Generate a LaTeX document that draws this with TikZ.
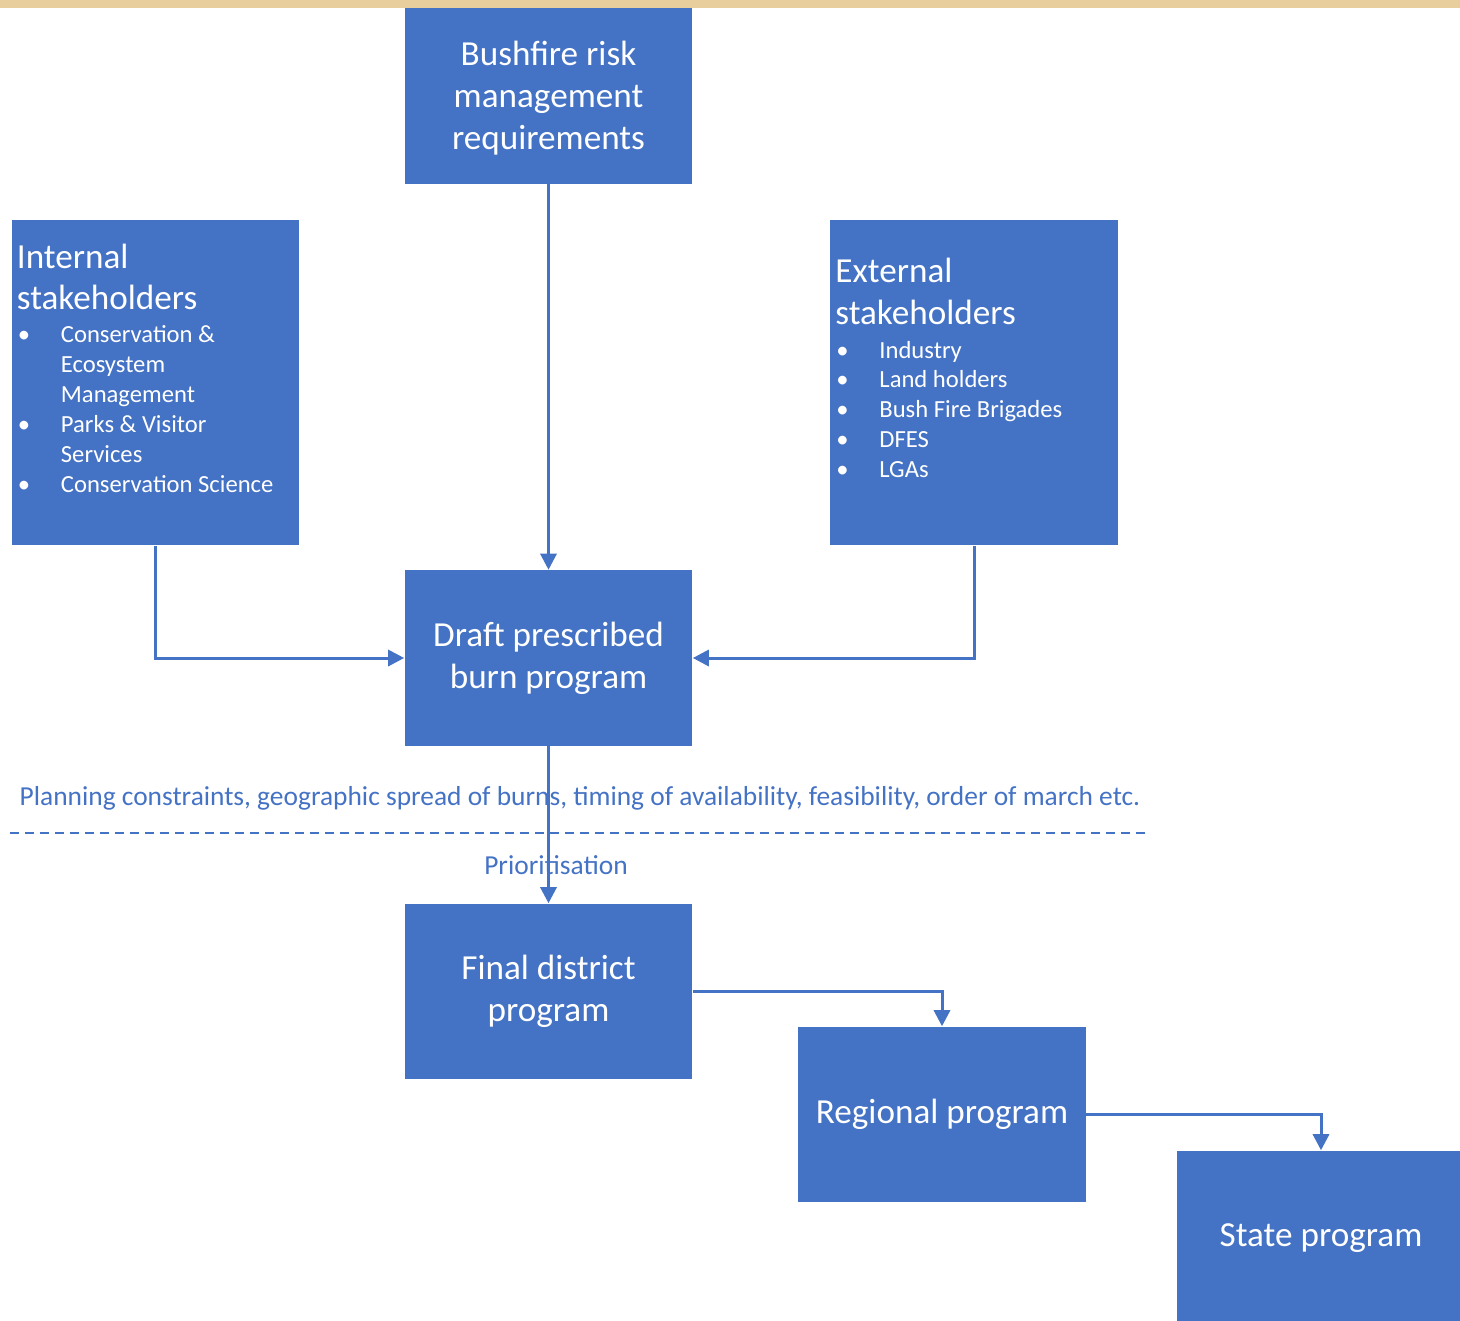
\documentclass[tikz,border=0pt]{standalone}
\usepackage{fontspec}
\setmainfont{Carlito}
\usetikzlibrary{positioning}
\usetikzlibrary{arrows.meta}

\definecolor{officeblue}{RGB}{68,114,196}
\definecolor{bandtan}{RGB}{232,206,156}

\newcommand{\bul}{\makebox[0.44cm][l]{\hspace{0.01cm}\textbullet}}
\newcommand{\ind}{\hspace*{0.44cm}}
\newcommand{\titlefont}{\fontsize{10}{11.8}\selectfont}
\newcommand{\itemfont}{\fontsize{7}{8.5}\selectfont\spaceskip=0pt\xspaceskip=0pt}

\begin{document}
\begin{tikzpicture}[x=0.01cm, y=-0.01cm,
    box/.style={fill=officeblue, text=white, minimum width=2.87cm, minimum height=1.75cm,
        align=center, font=\fontsize{10}{11.9}\selectfont, inner sep=0pt},
    stakebox/.style={fill=officeblue, text=white, minimum width=2.87cm, minimum height=3.25cm,
        text width=2.77cm, align=left, inner xsep=0.05cm, inner ysep=0pt},
    flow/.style={draw=officeblue, line width=0.03cm, -{Triangle[length=0.16cm, width=0.16cm]}},
    note/.style={text=officeblue, font=\fontsize{7.8}{9}\selectfont, inner sep=0pt}]
        \useasboundingbox (0,0) rectangle (1460,1321);

        % Franja superior
        \fill[bandtan] (0,0) rectangle (1460,8);

        % Cajas principales
        \node[box] (requirements) at (548.5,96) {\strut Bushfire risk\\management\\requirements};
        \node[box] (draft) at (548.5,658) {Draft prescribed\\burn program};
        \node[box] (final) at (548.5,991.5) {Final district\\program};
        \node[box] (regional) at (942,1114.5) {Regional program};
        \node[box, minimum height=1.74cm] (state) at (1321,1238) {State program};

        % Partes interesadas
        \node[stakebox] (internal) at (155.5,382.5) {%
            {\titlefont Internal\\stakeholders\par}\vspace{2.3pt}
            {\itemfont\begin{tabular}{@{}l@{}}
                \bul Conservation \&\\ \ind Ecosystem\\ \ind Management\\
                \bul Parks \& Visitor\\ \ind Services\\ \bul Conservation Science
            \end{tabular}\par}\vspace{0.2cm}};
        \node[stakebox] (external) at (974,382.5) {%
            {\titlefont External\\stakeholders\par}\vspace{2.6pt}
            {\itemfont\begin{tabular}{@{}l@{}}
                \bul Industry\\ \bul Land holders\\ \bul Bush Fire Brigades\\
                \bul DFES\\ \bul LGAs
            \end{tabular}\par}\vspace{0.2cm}};

        % Textos y separador
        \node[note] (constraints) at (580,798) {Planning constraints, geographic spread of burns, timing of availability, feasibility, order of march etc.};
        \node[note] (priority) at (556,865) {Prioritisation};
        \draw[officeblue, line width=0.02cm, dash pattern=on 0.09cm off 0.06cm] (10,833) -- (1150,833);

        % Flechas
        \draw[flow] (requirements) -- (draft);
        \draw[flow] (internal.south) |- (draft.west);
        \draw[flow] (external.south) |- (draft.east);
        \draw[flow] (draft) -- (final);
        \draw[flow] (final.east) -| (regional.north);
        \draw[flow] (regional.east) -| (state.north);
    \end{tikzpicture}
\end{document}
